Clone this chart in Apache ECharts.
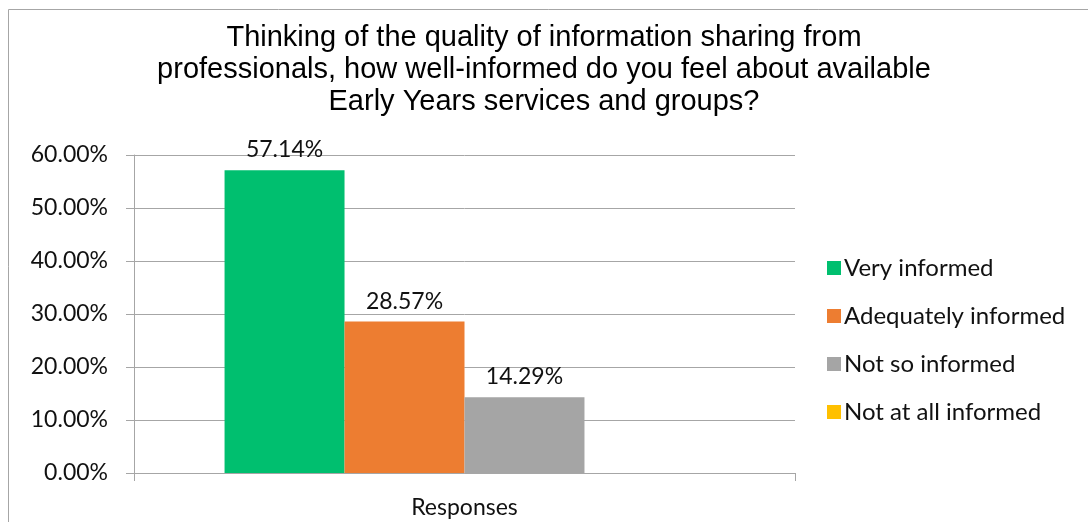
<!DOCTYPE html>
<html>
<head>
<meta charset="utf-8">
<script src="https://cdn.jsdelivr.net/npm/echarts@6/dist/echarts.min.js"></script>
<style>html,body{margin:0;padding:0;background:#fff}#c{width:1088px;height:522px}</style>
</head>
<body>
<div id="c"></div>
<script>
const titleText = 'Thinking of the quality of information sharing from\nprofessionals, how well-informed do you feel about available\nEarly Years services and groups?';
const categories = ['Responses'];
const seriesNames = ['Very informed', 'Adequately informed', 'Not so informed', 'Not at all informed'];
const veryInformed = [57.14];
const adequatelyInformed = [28.57];
const notSoInformed = [14.29];
const notAtAllInformed = [0];
const yTicks = [0, 10, 20, 30, 40, 50, 60];

const colors = ['#00BF6F', '#ED7D31', '#A5A5A5', '#FFC000'];
const values = [veryInformed, adequatelyInformed, notSoInformed, notAtAllInformed];
const chart = echarts.init(document.getElementById('c'), null, {renderer: 'canvas'});
const labelFont = 'Lato, "Open Sans", sans-serif';
chart.setOption({
  animation: false,
  graphic: [{type: 'rect', shape: {x: 8.5, y: 9.5, width: 1200, height: 600}, style: {fill: 'none', stroke: '#a6a6a6', lineWidth: 1}, silent: true}],
  title: {
    text: titleText, left: 'center', top: 22, padding: [0, 0, 0, 28],
    textStyle: {fontFamily: '"Liberation Sans", Arial, sans-serif', fontSize: 29, fontWeight: 'normal', color: '#000', lineHeight: 32}
  },
  legend: {
    orient: 'vertical', left: 822, top: 251, itemWidth: 14, itemHeight: 14, itemGap: 24, icon: 'rect',
    textStyle: {fontFamily: labelFont, fontSize: 24, color: '#111', lineHeight: 24, padding: [0, 0, 0, -2]},
    data: seriesNames
  },
  grid: {left: 134, right: 293, top: 155, bottom: 49, containLabel: false},
  xAxis: {
    type: 'category', data: categories,
    axisLine: {lineStyle: {color: '#a6a6a6'}},
    axisTick: {show: true, length: 8, lineStyle: {color: '#a6a6a6'}},
    axisLabel: {margin: 23, fontFamily: labelFont, fontSize: 23, color: '#111'}
  },
  yAxis: {
    type: 'value', min: yTicks[0], max: yTicks[yTicks.length - 1], interval: 10,
    axisLine: {show: true, lineStyle: {color: '#a6a6a6'}},
    axisTick: {show: true, length: 8, lineStyle: {color: '#a6a6a6'}},
    splitLine: {lineStyle: {color: '#a6a6a6'}},
    axisLabel: {margin: 26, fontFamily: labelFont, fontSize: 23, color: '#111', formatter: v => v.toFixed(2) + '%'}
  },
  series: seriesNames.map((n, i) => ({
    name: n, type: 'bar', data: values[i], barGap: 0, barCategoryGap: '27.4%',
    itemStyle: {color: colors[i]},
    label: {show: i < 3, position: 'top', distance: 9, fontFamily: labelFont, fontSize: 23, color: '#111', formatter: p => p.value.toFixed(2) + '%'}
  }))
});
</script>
</body>
</html>
